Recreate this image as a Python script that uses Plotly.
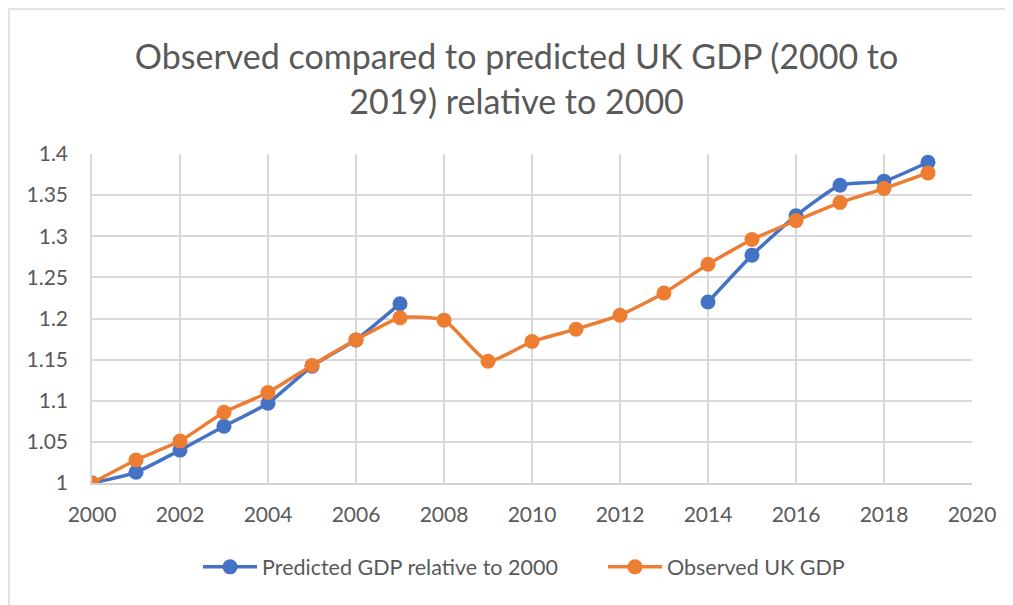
import plotly.graph_objects as go

years = list(range(2000, 2020))
predicted = [1.000, 1.013, 1.040, 1.069, 1.097, 1.142, 1.174, 1.218,
             None, None, None, None, None, None,
             1.220, 1.277, 1.325, 1.362, 1.367, 1.390]
observed = [1.000, 1.028, 1.051, 1.086, 1.110, 1.143, 1.174, 1.201,
            1.198, 1.148, 1.172, 1.187, 1.204, 1.231, 1.266, 1.296,
            1.319, 1.341, 1.358, 1.377]

x_ticks = list(range(2000, 2021, 2))
y_ticks = [1, 1.05, 1.1, 1.15, 1.2, 1.25, 1.3, 1.35, 1.4]
y_tick_labels = ["1", "1.05", "1.1", "1.15", "1.2", "1.25", "1.3", "1.35", "1.4"]

FONT = "Lato, 'Noto Sans', sans-serif"
GREY = "#595959"

fig = go.Figure()
fig.add_trace(go.Scatter(
    x=years, y=predicted, name="Predicted GDP relative to 2000",
    mode="lines+markers", connectgaps=False, legend="legend",
    line=dict(color="#4472C4", width=3.5, shape="spline", smoothing=0.5),
    marker=dict(color="#4472C4", size=15)))
fig.add_trace(go.Scatter(
    x=years, y=observed, name="Observed UK GDP",
    mode="lines+markers", legend="legend2",
    line=dict(color="#ED7D31", width=3.5, shape="spline", smoothing=0.5),
    marker=dict(color="#ED7D31", size=15)))

leg_common = dict(orientation="h", xanchor="left", y=-0.255, yanchor="middle",
                  font=dict(size=21.5, color=GREY), itemwidth=54)

fig.update_layout(
    width=1005, height=597,
    margin=dict(l=84, r=41, t=146, b=122),
    paper_bgcolor="white", plot_bgcolor="white",
    font=dict(family=FONT, color=GREY, size=21),
    title=dict(text="Observed compared to predicted UK GDP (2000 to<br>2019) relative to 2000",
               x=0.506, xanchor="center", y=0.897, yanchor="middle",
               font=dict(size=34, color=GREY, family=FONT)),
    showlegend=True,
    legend=dict(x=0.1205, **leg_common),
    legend2=dict(x=0.5807, **leg_common),
    xaxis=dict(range=[2000, 2020], tickvals=x_ticks, showgrid=True,
               gridcolor="#D9D9D9", gridwidth=1.5, zeroline=False,
               showline=True, linecolor="#D0D0D0", linewidth=1.5,
               ticks="", ticklabelstandoff=12, tickfont=dict(size=21, color=GREY)),
    yaxis=dict(range=[1, 1.4], tickvals=y_ticks, ticktext=y_tick_labels,
               showgrid=True, gridcolor="#D9D9D9", gridwidth=1.5, zeroline=False,
               showline=True, linecolor="#D9D9D9", linewidth=1.5,
               ticks="", ticklabelstandoff=18, tickfont=dict(size=21, color=GREY)),
)
fig.add_shape(type="rect", xref="paper", yref="paper",
              x0=-0.0943, x1=1.2, y0=-0.6, y1=1.4407,
              line=dict(color="#D9D9D9", width=1.5), layer="below")
fig.write_html("out.html")
